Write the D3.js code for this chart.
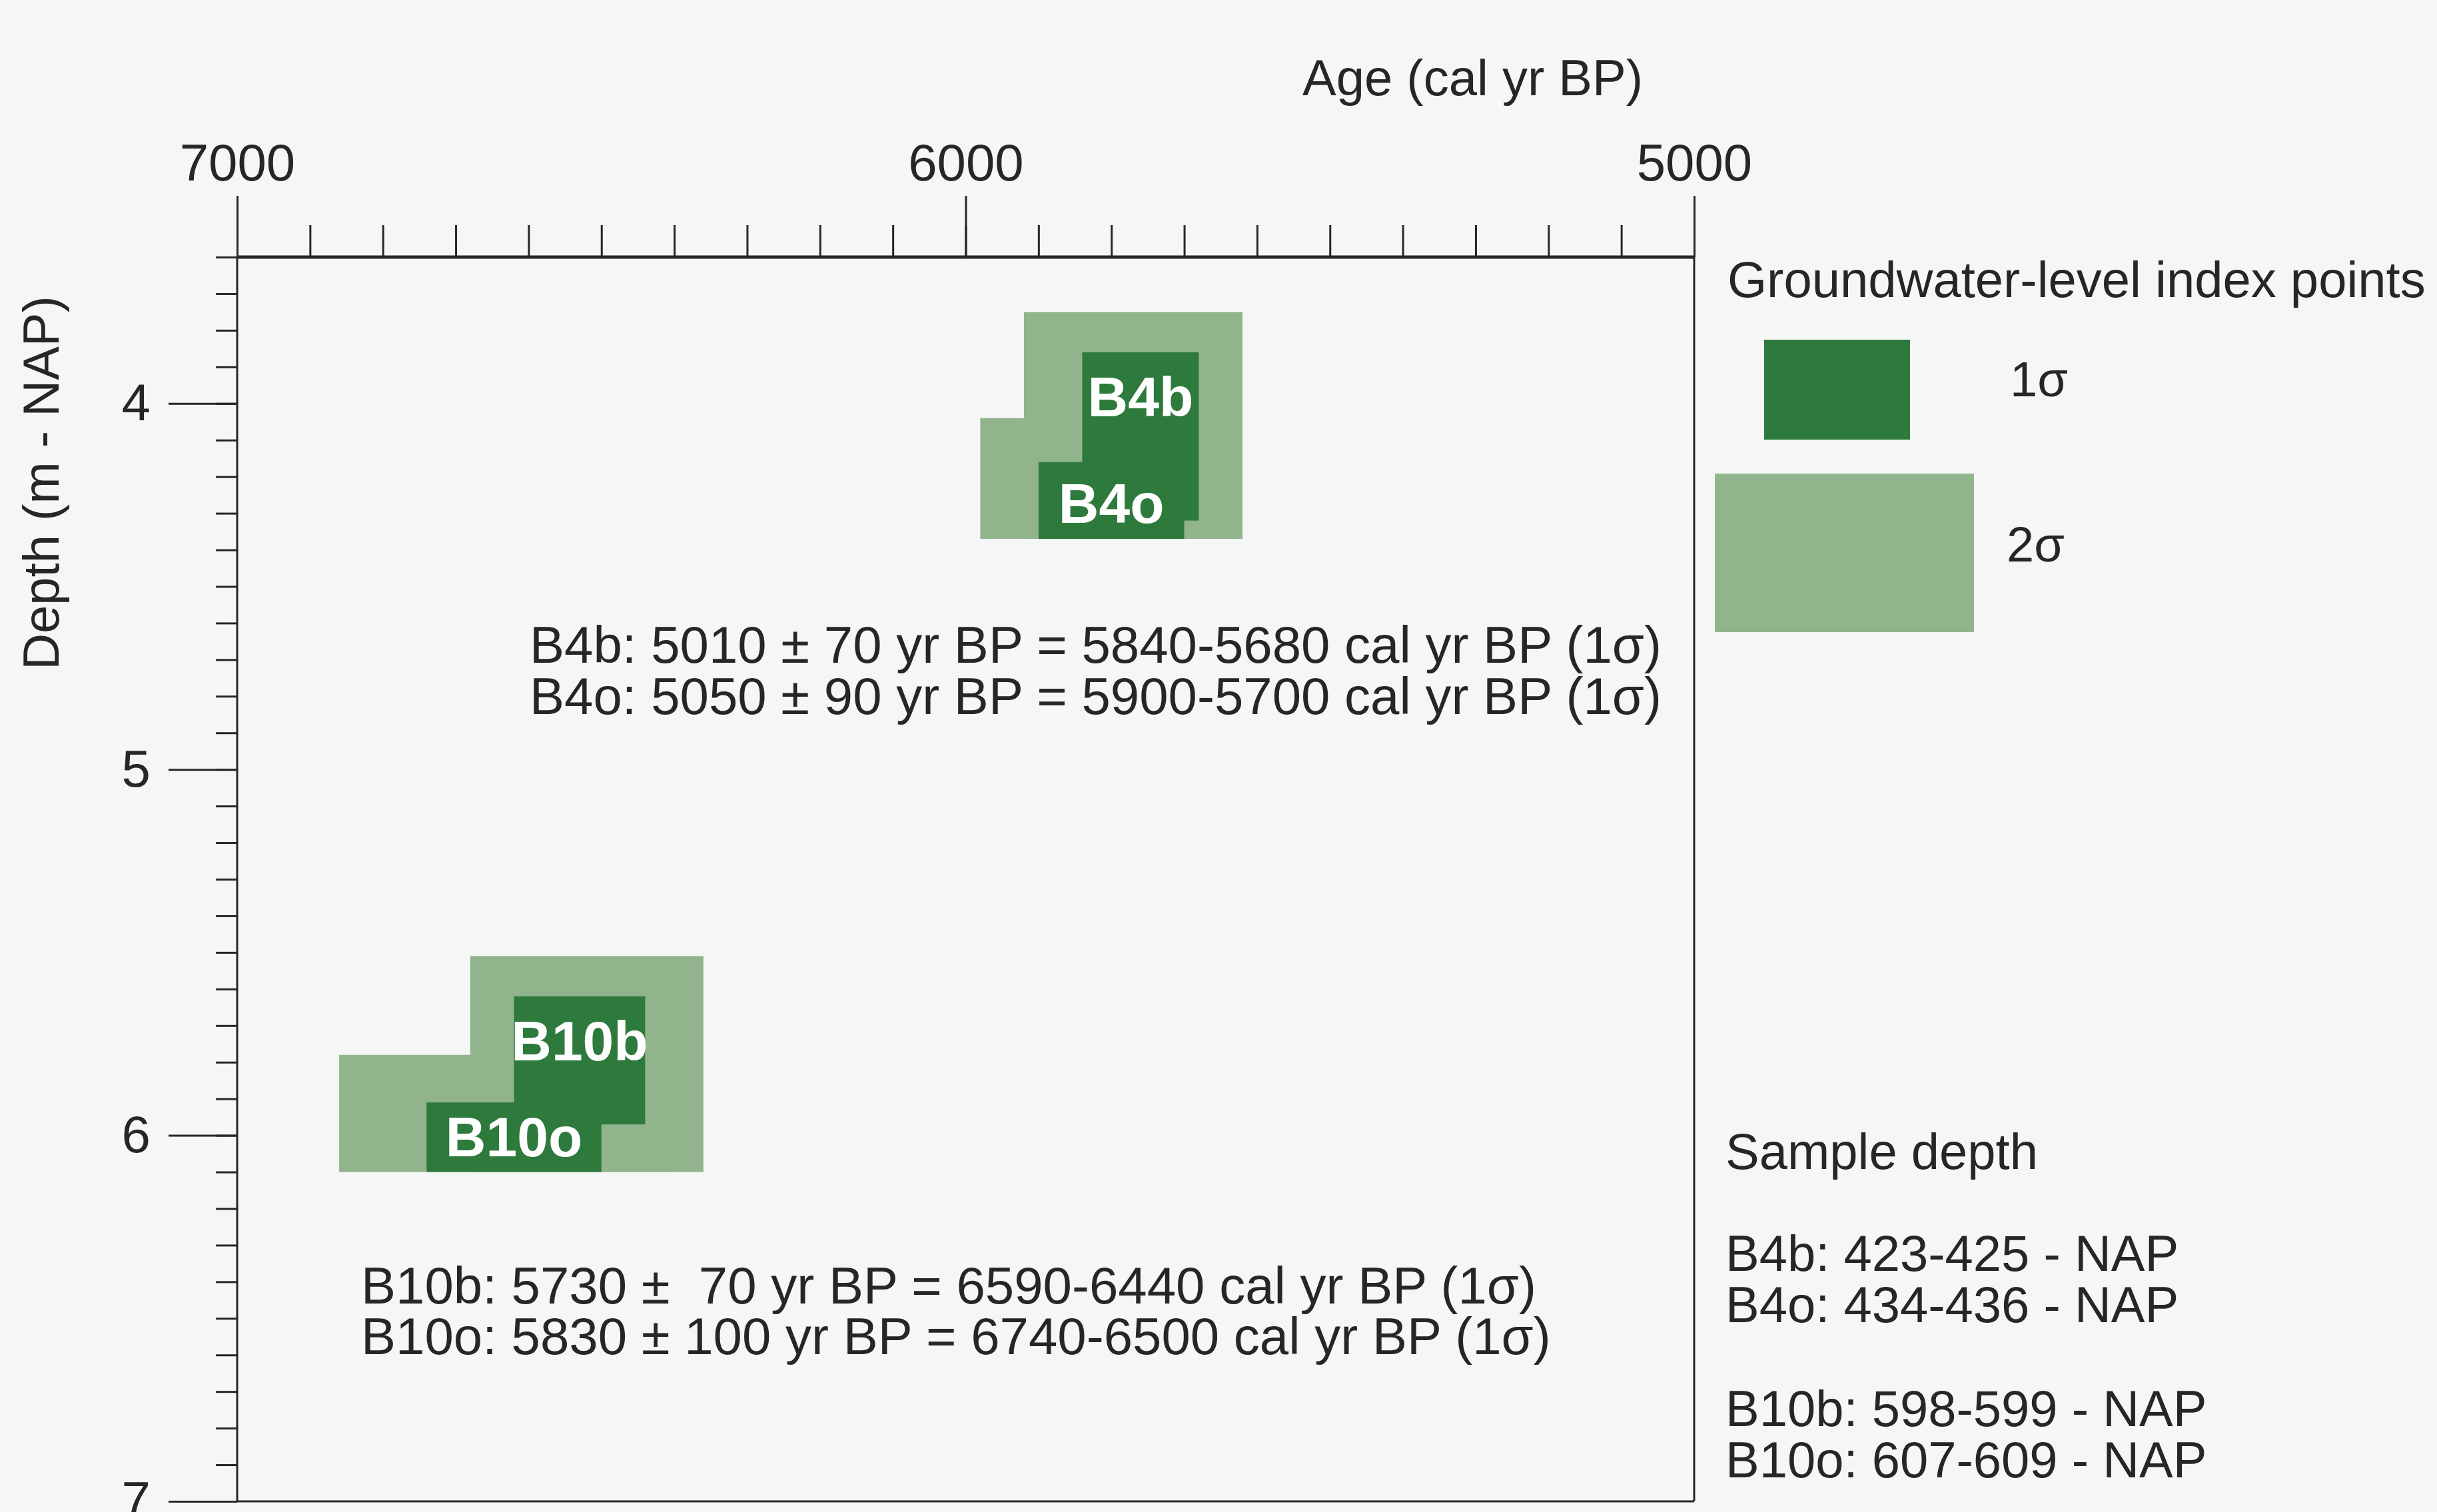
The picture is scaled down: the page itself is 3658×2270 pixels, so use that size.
<!DOCTYPE html>
<html>
<head>
<meta charset="utf-8">
<script src="https://cdn.jsdelivr.net/npm/d3@7"></script>
<style>
  body { margin: 0; background: #f5f7f7; }
  svg text { font-family: "Liberation Sans", Arial, Helvetica, sans-serif; fill: #262626; }
</style>
</head>
<body>
<div id="graph"></div>
<script>
// samples and their calibrated age ranges (cal yr BP)
var samples = ["B4b", "B4o", "B10b", "B10o"];
var oneSigmaAge = [[5840, 5680], [5900, 5700], [6620, 6440], [6740, 6500]];
var twoSigmaAge = [[5920, 5620], [5980, 5620], [6680, 6360], [6860, 6400]];
// vertical extent of each index point (m - NAP)
var oneSigmaDepth = [[3.86, 4.32], [4.16, 4.37], [5.62, 5.97], [5.91, 6.10]];
var twoSigmaDepth = [[3.75, 4.37], [4.04, 4.37], [5.51, 6.10], [5.78, 6.10]];

var ageTicks = [7000, 6000, 5000];
var depthTicks = [4, 5, 6, 7];

var datingLinesB4 = [
  "B4b: 5010 \u00b1 70 yr BP = 5840-5680 cal yr BP (1\u03c3)",
  "B4o: 5050 \u00b1 90 yr BP = 5900-5700 cal yr BP (1\u03c3)"
];
var datingLinesB10 = [
  "B10b: 5730 \u00b1  70 yr BP = 6590-6440 cal yr BP (1\u03c3)",
  "B10o: 5830 \u00b1 100 yr BP = 6740-6500 cal yr BP (1\u03c3)"
];
var legendTitle = "Groundwater-level index points";
var legendLabels = ["1\u03c3", "2\u03c3"];
var depthTitle = "Sample depth";
var depthLines = ["B4b: 423-425 - NAP", "B4o: 434-436 - NAP", "B10b: 598-599 - NAP", "B10o: 607-609 - NAP"];

var dark = "#2e7a3d", light = "#92b48d";
var w = 3658, h = 2270;

var svg = d3.select("div#graph").append("svg")
  .attr("width", w).attr("height", h);

var x = d3.scaleLinear().domain([7000, 5000]).range([356, 2543]);
var y = d3.scaleLinear().domain([3.6, 7]).range([386, 2254]);

// boxes: 2 sigma first, 1 sigma on top
var boxes2 = samples.map(function(s, i) { return {name: s, age: twoSigmaAge[i], depth: twoSigmaDepth[i]}; });
var boxes1 = samples.map(function(s, i) { return {name: s, age: oneSigmaAge[i], depth: oneSigmaDepth[i]}; });

function drawBoxes(data, cls, color) {
  svg.selectAll("rect." + cls)
    .data(data).enter().append("rect")
    .attr("class", cls)
    .attr("x", function(d) { return x(d.age[0]); })
    .attr("width", function(d) { return x(d.age[1]) - x(d.age[0]); })
    .attr("y", function(d) { return y(d.depth[0]); })
    .attr("height", function(d) { return y(d.depth[1]) - y(d.depth[0]); })
    .attr("fill", color);
}
drawBoxes(boxes2, "two", light);
drawBoxes(boxes1, "one", dark);

// white labels inside the 1 sigma boxes
svg.selectAll("text.boxlabel")
  .data(boxes1).enter().append("text")
  .attr("class", "boxlabel")
  .attr("x", function(d) { return (x(d.age[0]) + x(d.age[1])) / 2; })
  .attr("y", function(d) {
    return d.name.slice(-1) == "b" ? y(d.depth[0]) + 96 : y(d.depth[1]) - 24;
  })
  .attr("text-anchor", "middle")
  .style("font-size", "84px").style("font-weight", "bold").style("fill", "#fff")
  .text(function(d) { return d.name; });

// top axis: minor ticks every 100 yr, long ticks with labels at 1000 yr
var minorAge = d3.range(5000, 7001, 100);
var gx1 = svg.append("g").attr("transform", "translate(0," + y(3.6) + ")")
  .call(d3.axisTop(x).tickValues(minorAge).tickSize(48).tickFormat(""));
var gx2 = svg.append("g").attr("transform", "translate(0," + y(3.6) + ")")
  .call(d3.axisTop(x).tickValues(ageTicks).tickSize(92).tickPadding(23).tickFormat(d3.format("d")));
[gx1, gx2].forEach(function(g) {
  g.select(".domain").remove();
  g.selectAll(".tick line").attr("stroke", "#262626").attr("stroke-width", 3);
});
gx2.selectAll(".tick text").style("font-size", "78px");

// left axis: minor ticks every 0.1 m
var minorDepth = d3.range(36, 71).map(function(d) { return d / 10; });
var gy1 = svg.append("g").attr("transform", "translate(" + x(7000) + ",0)")
  .call(d3.axisLeft(y).tickValues(minorDepth).tickSize(32).tickFormat(""));
var gy2 = svg.append("g").attr("transform", "translate(" + x(7000) + ",0)")
  .call(d3.axisLeft(y).tickValues(depthTicks).tickSize(103).tickPadding(27).tickFormat(d3.format("d")));
[gy1, gy2].forEach(function(g) {
  g.select(".domain").remove();
  g.selectAll(".tick line").attr("stroke", "#262626").attr("stroke-width", 3);
});
gy2.selectAll(".tick text").style("font-size", "78px");

// frame
svg.append("line").attr("x1", x(7000)).attr("x2", x(5000)).attr("y1", y(3.6)).attr("y2", y(3.6))
  .attr("stroke", "#262626").attr("stroke-width", 5);
svg.append("line").attr("x1", x(7000)).attr("x2", x(7000)).attr("y1", y(3.6)).attr("y2", y(7))
  .attr("stroke", "#262626").attr("stroke-width", 3);
svg.append("line").attr("x1", x(5000)).attr("x2", x(5000)).attr("y1", y(3.6)).attr("y2", y(7))
  .attr("stroke", "#262626").attr("stroke-width", 3);
svg.append("line").attr("x1", x(7000)).attr("x2", x(5000)).attr("y1", y(7)).attr("y2", y(7))
  .attr("stroke", "#262626").attr("stroke-width", 3);

// axis titles
svg.append("text").attr("x", 1955).attr("y", 143)
  .style("font-size", "76px").text("Age (cal yr BP)");
svg.append("text").attr("transform", "translate(88,725) rotate(-90)")
  .attr("text-anchor", "middle").style("font-size", "76px").text("Depth (m - NAP)");

// dating annotations
function textBlock(lines, x0, y0, dy) {
  svg.append("g").selectAll("text").data(lines).enter().append("text")
    .attr("x", x0).attr("y", function(d, i) { return y0 + i * dy; })
    .style("font-size", "78px").style("white-space", "pre")
    .text(function(d) { return d; });
}
textBlock(datingLinesB4, 795, 995, 77);
textBlock(datingLinesB10, 542, 1957, 76);

// legend
svg.append("text").attr("x", 2593).attr("y", 446).style("font-size", "76px").text(legendTitle);
svg.append("rect").attr("x", 2648).attr("y", 510).attr("width", 219).attr("height", 150).attr("fill", dark);
svg.append("rect").attr("x", 2574).attr("y", 711).attr("width", 389).attr("height", 238).attr("fill", light);
svg.append("text").attr("x", 3017).attr("y", 595).style("font-size", "74px").text(legendLabels[0]);
svg.append("text").attr("x", 3012).attr("y", 843).style("font-size", "74px").text(legendLabels[1]);

svg.append("text").attr("x", 2590).attr("y", 1755).style("font-size", "76px").text(depthTitle);
svg.append("g").selectAll("text").data(depthLines).enter().append("text")
  .attr("x", 2590)
  .attr("y", function(d, i) { return [1908, 1985, 2141, 2218][i]; })
  .style("font-size", "76px")
  .text(function(d) { return d; });
</script>
</body>
</html>
